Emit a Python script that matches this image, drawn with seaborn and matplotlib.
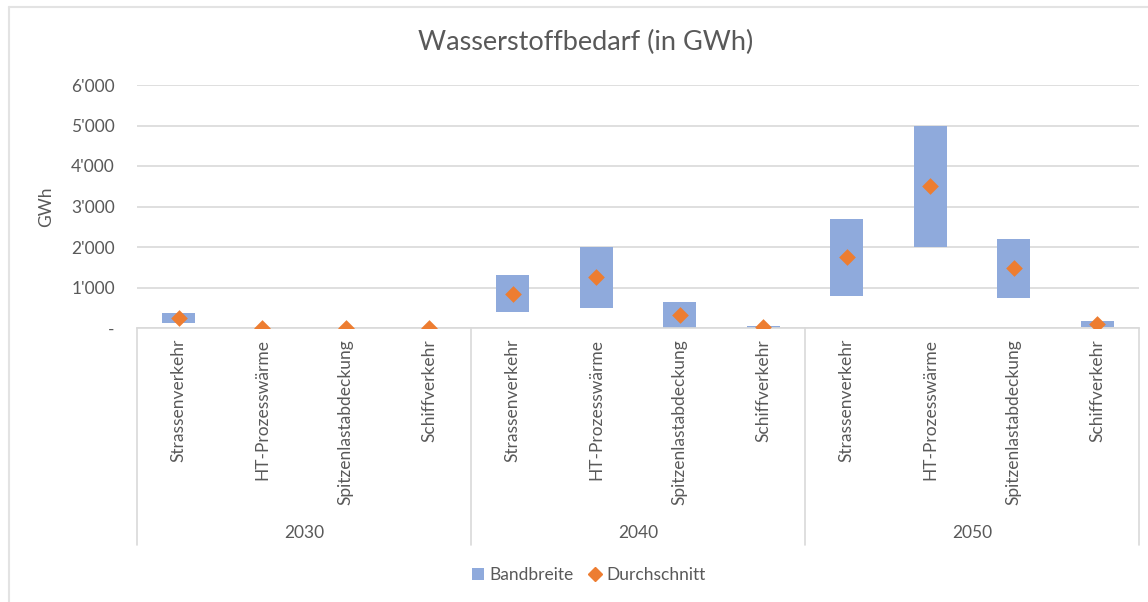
import matplotlib
matplotlib.use("Agg")
import matplotlib.pyplot as plt
from matplotlib.lines import Line2D
from matplotlib.patches import Patch
import seaborn as sns
import pandas as pd

years = ["2030", "2040", "2050"]
categories = ["Strassenverkehr", "HT-Prozesswärme", "Spitzenlastabdeckung", "Schiffverkehr"]
low_2030 = [130, 0, 0, 0]
high_2030 = [380, 10, 10, 10]
mean_2030 = [255, 5, 5, 5]
low_2040 = [400, 500, 0, 0]
high_2040 = [1300, 2000, 650, 60]
mean_2040 = [850, 1250, 325, 30]
low_2050 = [800, 2000, 750, 25]
high_2050 = [2700, 5000, 2200, 175]
mean_2050 = [1750, 3500, 1475, 100]
yticks = [0, 1000, 2000, 3000, 4000, 5000, 6000]
ytick_labels = ["-", "1'000", "2'000", "3'000", "4'000", "5'000", "6'000"]

rows = []
for y, lo, hi, me in zip(years, [low_2030, low_2040, low_2050],
                         [high_2030, high_2040, high_2050],
                         [mean_2030, mean_2040, mean_2050]):
    for c, l, h, m in zip(categories, lo, hi, me):
        rows.append({"key": f"{y}|{c}", "year": y, "cat": c,
                     "low": l, "high": h, "range": h - l, "mean": m})
df = pd.DataFrame(rows)
order = list(df["key"])

sns.set_theme(style="white")
FONT = ["Lato", "DejaVu Sans"]
plt.rcParams["font.family"] = FONT
TXT = "#595959"
GRID = "#d9d9d9"
BLUE = "#8faadc"
ORANGE = "#ed7d31"
FS = 12.5

fig = plt.figure(figsize=(11.48, 6.02), dpi=100)
W, H = 1148, 602
ax = fig.add_axes([137 / W, (H - 328) / H, (1139 - 137) / W, (328 - 85) / H])

sns.barplot(data=df, x="key", y="range", order=order, bottom=df["low"].values,
            color=BLUE, saturation=1, width=0.4, ax=ax, zorder=2, linewidth=0)
sns.stripplot(data=df, x="key", y="mean", order=order, jitter=False,
              marker="D", color=ORANGE, size=8.5, ax=ax, zorder=3, linewidth=0)

ax.set_ylim(0, 6000)
ax.set_xlim(-0.5, len(order) - 0.5)
ax.set_yticks(yticks)
ax.set_yticklabels(ytick_labels, color=TXT, fontsize=FS)
ax.yaxis.grid(True, color=GRID, linewidth=1.2, zorder=0)
ax.set_axisbelow(True)
ax.tick_params(axis="y", length=0, pad=16)
ax.tick_params(axis="x", length=0, pad=8)
ax.set_xticks(range(len(order)))
ax.set_xticklabels(df["cat"], rotation=90, color=TXT, fontsize=FS)
for s in ["top", "right", "left"]:
    ax.spines[s].set_visible(False)
ax.spines["bottom"].set_color(GRID)
ax.spines["bottom"].set_linewidth(1.2)
ax.set_xlabel("")
ax.set_ylabel("GWh", color=TXT, fontsize=FS, labelpad=12)

trans = ax.get_xaxis_transform()
n = len(categories)
for i in range(len(years) + 1):
    xs = i * n - 0.5
    ax.plot([xs, xs], [0, -0.893], transform=trans, color=GRID, lw=1.2, clip_on=False)
for i, y in enumerate(years):
    ax.text(i * n + (n - 1) / 2, -0.844, y, transform=trans, ha="center", va="center",
            color=TXT, fontsize=FS)

fig.text(586 / W, 1 - 42 / H, "Wasserstoffbedarf (in GWh)", ha="center", va="center",
         color=TXT, fontsize=19.5)

handles = [Patch(facecolor=BLUE, edgecolor="none", label="Bandbreite"),
           Line2D([], [], marker="D", color=ORANGE, linestyle="none", markersize=7,
                  label="Durchschnitt")]
fig.legend(handles=handles, loc="center", bbox_to_anchor=(589 / W, 1 - 575 / H), ncol=2,
           frameon=False, fontsize=FS, labelcolor=TXT, handlelength=0.7,
           handletextpad=0.3, columnspacing=0.9)

fig.add_artist(Line2D([9 / W, 9 / W], [0, 1 - 7 / H], color="#e3e3e3", lw=1.5))
fig.add_artist(Line2D([9 / W, 1], [1 - 7 / H, 1 - 7 / H], color="#e3e3e3", lw=1.5))

fig.savefig("out.png", dpi=100, facecolor="white")
